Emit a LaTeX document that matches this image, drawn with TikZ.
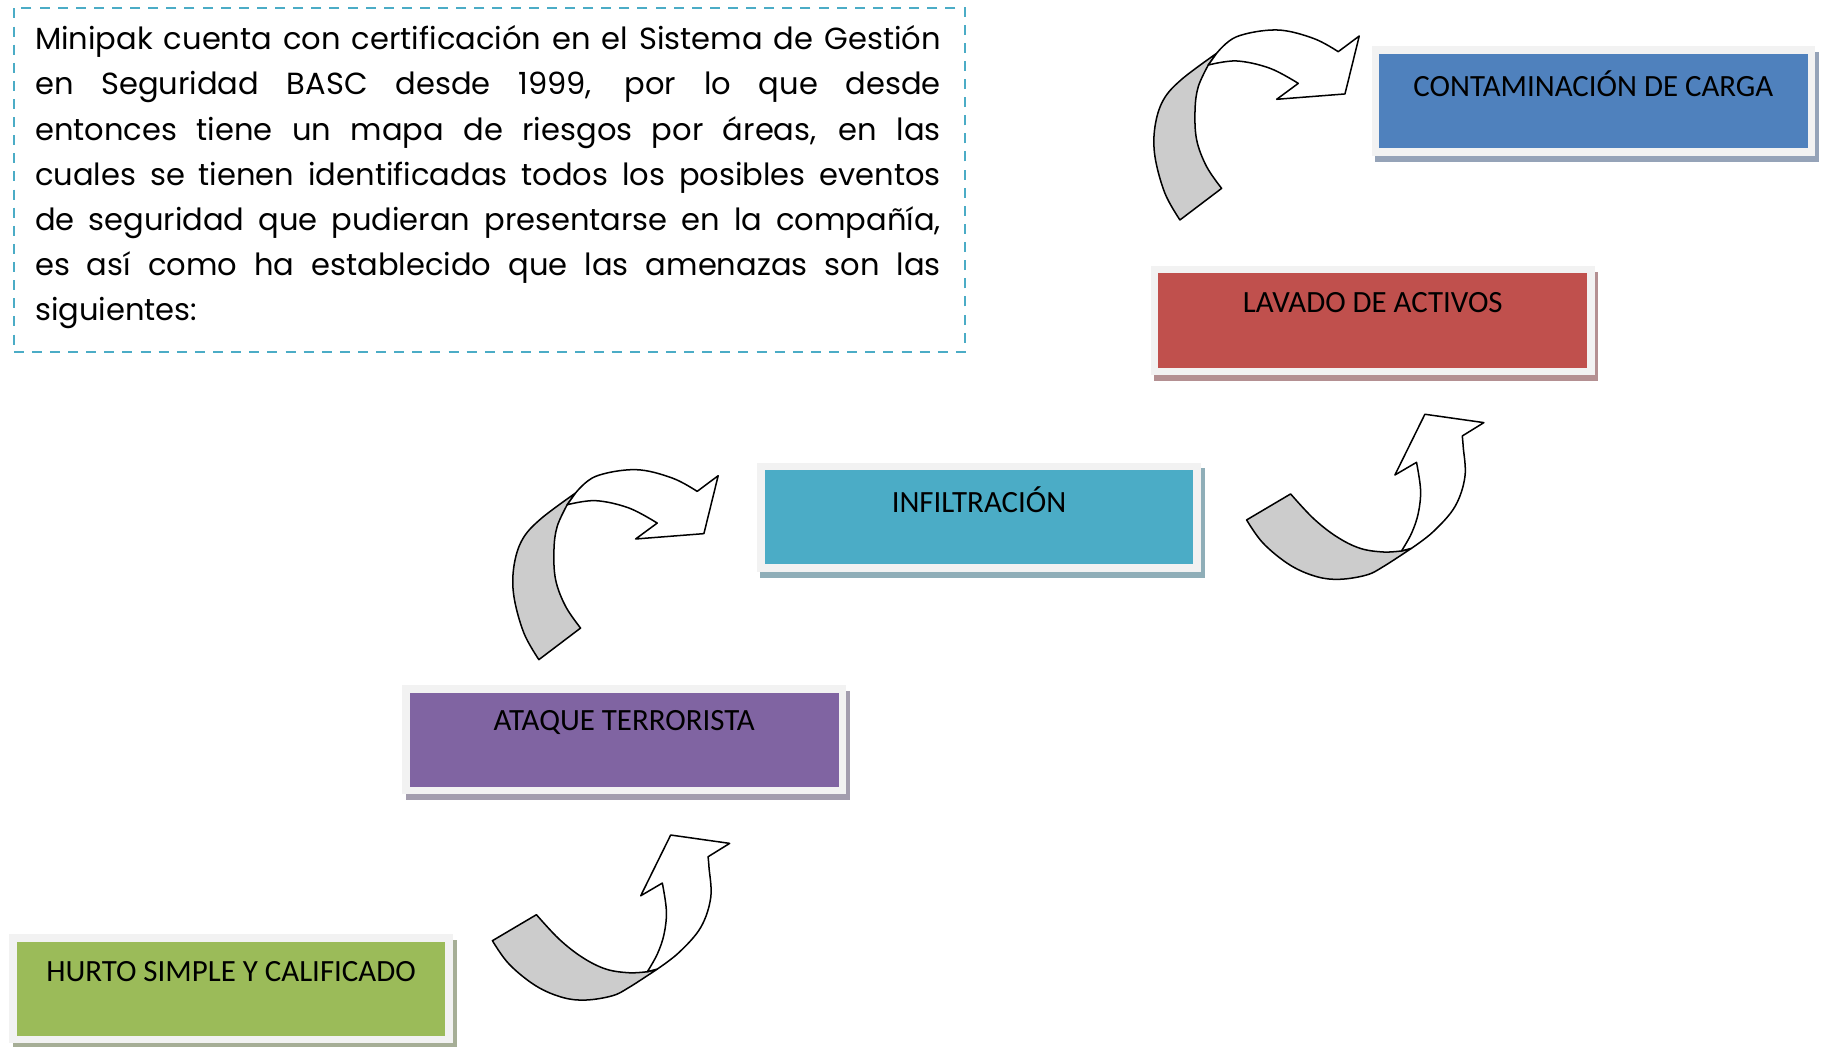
\documentclass[tikz,border=0pt]{standalone}
\usepackage{fontspec}
\setmainfont{Poppins}
\newfontfamily\boxfont{Carlito}
\usetikzlibrary{backgrounds}
\definecolor{dashblue}{HTML}{4BACC6}
\definecolor{cblue}{HTML}{4F81BD}
\definecolor{sblue}{HTML}{95A3B8}
\definecolor{cred}{HTML}{C0504D}
\definecolor{sred}{HTML}{B49092}
\definecolor{cteal}{HTML}{4BACC6}
\definecolor{steal}{HTML}{8FAEB8}
\definecolor{cpurple}{HTML}{8064A2}
\definecolor{spurple}{HTML}{A39DAE}
\definecolor{cgreen}{HTML}{9BBB59}
\definecolor{sgreen}{HTML}{A6AE96}
\definecolor{framegray}{HTML}{F2F2F2}
\definecolor{arrowgray}{HTML}{CCCCCC}
\tikzset{
  riskframe/.style={draw=none, fill=framegray, minimum width=382pt, minimum height=94pt, inner sep=0pt},
  riskinner/.style={draw=none, fill=#1, minimum width=369pt, minimum height=81pt, inner sep=0pt},
  risklabel/.style={font=\boxfont\fontsize{26.6}{30}\selectfont, inner sep=0pt, anchor=center},
  arrowline/.style={draw=black, line width=1.3pt, line join=round},
  dashbox/.style={draw=dashblue, line width=1.7pt, dash pattern=on 8.6pt off 7pt, minimum width=819pt, minimum height=296pt, inner sep=0pt, anchor=north west},
  paratext/.style={anchor=base west, text width=780pt, align=justify, inner sep=0pt, font=\fontsize{26.3}{38.8}\selectfont}
}
\newcommand\riskbox[5]{%
  \node[riskframe] (#1) at (#2) {};
  \node[riskinner=#3] (#1in) at (#1) {};
  \node[risklabel] (#1txt) at ([yshift=-32pt]#1.north) {#5};
  \begin{scope}[on background layer]
    \fill[#4] ([shift={(3pt,-5pt)}]#1.south west) rectangle ([shift={(3pt,-5pt)}]#1.north east);
  \end{scope}}
\newcommand\curvedUpArrow{%
  \path[arrowline, fill=arrowgray]
    plot[smooth, tension=0.6] coordinates {(1016,189.4) (1003.1,166.5) (994.5,134.9) (994.5,109.1) (1001.7,86.1) (1017.5,68.3) (1047.6,45.9)}
    -- (1040.4,56)
    -- plot[smooth, tension=0.6] coordinates {(1040.4,56) (1031.8,74.6) (1029,94.7) (1030.4,120.5) (1039,143.5) (1051.9,162.2)}
    -- cycle;
  \path[arrowline, fill=white]
    plot[smooth, tension=0.6] coordinates {(1047.6,45.9) (1064.8,31.6) (1099.3,25.8) (1130.8,33) (1152.3,44.5)}
    -- (1170.4,31) -- (1158.1,80.9) -- (1099.3,85.5) -- (1117.9,71.8)
    -- plot[smooth, tension=0.6] coordinates {(1117.9,71.8) (1093.5,58.8) (1064.8,52.5) (1040.4,56)}
    -- cycle;}
\newcommand\curvedRightArrow{%
  \path[arrowline, fill=arrowgray]
    plot[smooth, tension=0.6] coordinates {(1073.4,447.7) (1087.7,467.8) (1110.7,486.5) (1133.6,496.5) (1153.7,498.8) (1176.7,495.1) (1191.1,487.9) (1215.4,472.1)}
    -- (1206.8,474.4)
    -- plot[smooth, tension=0.6] coordinates {(1206.8,474.4) (1191.1,475.3) (1171,472.1) (1150.9,462.1) (1130.8,446.3) (1111.3,425.3)}
    -- cycle;
  \path[arrowline, fill=white]
    plot[smooth, tension=0.6] coordinates {(1215.4,472.1) (1234.1,457.8) (1252.8,436.2) (1261.4,410.4) (1259.9,384.6) (1259.1,375.4)}
    -- (1277.7,363.9) -- (1226.9,356.7) -- (1201.1,409) -- (1219.7,398.1)
    -- plot[smooth, tension=0.6] coordinates {(1219.7,398.1) (1223.2,421.9) (1221.2,442) (1215.4,459.2) (1206.8,474.4)}
    -- cycle;}
\begin{document}
\begin{tikzpicture}[x=1pt, y=-1pt]
  \useasboundingbox (0,0) rectangle (1568,901.5);
  % text box
  \node[dashbox] (para) at (11,6) {};
  \node[paratext] (paratxt) at (30,43) {\hyphenpenalty=10000
    Minipak cuenta con certificación en el Sistema de Gestión\linebreak
    en Seguridad BASC desde 1999, por lo que desde\linebreak
    entonces tiene un mapa de riesgos por áreas, en las\linebreak
    cuales se tienen identificadas todos los posibles eventos\linebreak
    de seguridad que pudieran presentarse en la compañía,\linebreak
    es así como ha establecido que las amenazas son las\linebreak
    siguientes:};
  % boxes
  \riskbox{cont}{1372,87}{cblue}{sblue}{CONTAMINACIÓN DE CARGA}
  \riskbox{lav}{1182,276}{cred}{sred}{LAVADO DE ACTIVOS}
  \riskbox{inf}{843,445.5}{cteal}{steal}{INFILTRACIÓN}
  \riskbox{ataq}{537.5,637}{cpurple}{spurple}{ATAQUE TERRORISTA}
  \riskbox{hurto}{199,851.5}{cgreen}{sgreen}{HURTO SIMPLE Y CALIFICADO}
  % arrows
  \curvedUpArrow
  \curvedRightArrow
  \begin{scope}[shift={(-552,378.6)}]
    \curvedUpArrow
  \end{scope}
  \begin{scope}[shift={(-649.4,362.3)}]
    \curvedRightArrow
  \end{scope}
\end{tikzpicture}
\end{document}
